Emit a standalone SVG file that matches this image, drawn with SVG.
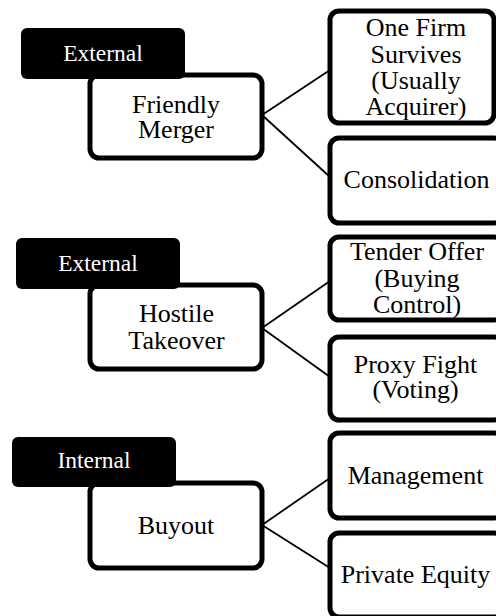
<svg xmlns="http://www.w3.org/2000/svg" width="496" height="616" viewBox="0 0 496 616">
<style>
.box{fill:#fff;stroke:#000;stroke-width:5}
.tag{fill:#000}
.t{font-family:"Liberation Serif","Times New Roman",serif;font-size:26px;fill:#000;text-anchor:middle}
.tt{font-family:"Liberation Serif","Times New Roman",serif;font-size:23.5px;fill:#fff;text-anchor:middle}
.c{stroke:#000;stroke-width:1.8;fill:none}
</style>
<rect width="496" height="616" fill="#fff"/>
<g id="connectors">
<line class="c" x1="262" y1="115" x2="330" y2="70"/>
<line class="c" x1="262" y1="115" x2="330" y2="177"/>
<line class="c" x1="262" y1="328" x2="330" y2="281"/>
<line class="c" x1="262" y1="328" x2="330" y2="377"/>
<line class="c" x1="262" y1="525" x2="330" y2="478"/>
<line class="c" x1="262" y1="525" x2="330" y2="568"/>
</g>
<g id="friendly-merger">
<rect class="box" x="90" y="75" width="172" height="83" rx="9"/>
<text class="t" x="176" y="112.5">Friendly</text>
<text class="t" x="176" y="138">Merger</text>
</g>
<g id="tag-external-1">
<rect class="tag" x="21" y="28" width="164" height="51" rx="6"/>
<text class="tt" x="103" y="61">External</text>
</g>
<g id="one-firm-survives">
<rect class="box" x="330" y="11" width="164" height="112" rx="9"/>
<text class="t" x="416" y="35.7">One Firm</text>
<text class="t" x="416" y="62.5">Survives</text>
<text class="t" x="416" y="89">(Usually</text>
<text class="t" x="416" y="115">Acquirer)</text>
</g>
<g id="consolidation">
<rect class="box" x="330" y="138" width="173" height="85" rx="9"/>
<text class="t" x="416.5" y="188">Consolidation</text>
</g>
<g id="hostile-takeover">
<rect class="box" x="90" y="285" width="172" height="84" rx="9"/>
<text class="t" x="176.5" y="321.7">Hostile</text>
<text class="t" x="176.5" y="348.5">Takeover</text>
</g>
<g id="tag-external-2">
<rect class="tag" x="16" y="238" width="164" height="51" rx="6"/>
<text class="tt" x="98" y="271">External</text>
</g>
<g id="tender-offer">
<rect class="box" x="330" y="237" width="173" height="83" rx="9"/>
<text class="t" x="417" y="259.5">Tender Offer</text>
<text class="t" x="417" y="287">(Buying</text>
<text class="t" x="417" y="313">Control)</text>
</g>
<g id="proxy-fight">
<rect class="box" x="330" y="337" width="173" height="83" rx="9"/>
<text class="t" x="415.5" y="372.5">Proxy Fight</text>
<text class="t" x="415.5" y="397.5">(Voting)</text>
</g>
<g id="buyout">
<rect class="box" x="90" y="483" width="172" height="85" rx="9"/>
<text class="t" x="176" y="534">Buyout</text>
</g>
<g id="tag-internal">
<rect class="tag" x="12" y="437" width="164" height="50" rx="6"/>
<text class="tt" x="94" y="468">Internal</text>
</g>
<g id="management">
<rect class="box" x="330" y="433" width="173" height="85" rx="9"/>
<text class="t" x="415.5" y="483.5">Management</text>
</g>
<g id="private-equity">
<rect class="box" x="330" y="533" width="173" height="84" rx="9"/>
<text class="t" x="415.5" y="583">Private Equity</text>
</g>
</svg>
